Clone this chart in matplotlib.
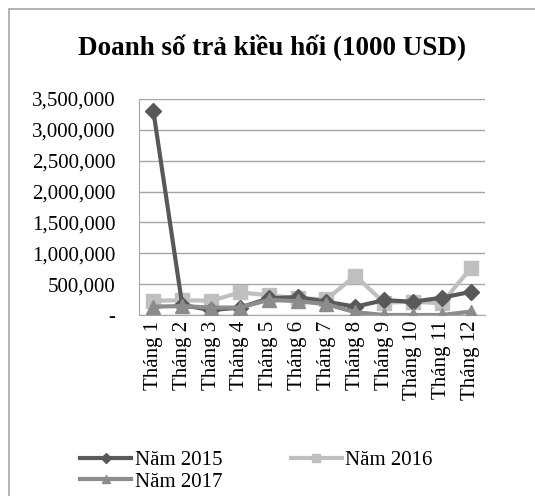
import matplotlib.pyplot as plt
from matplotlib.patches import Rectangle
from matplotlib.ticker import FuncFormatter

months = ["Tháng %d" % i for i in range(1, 13)]
nam_2015 = [3300000, 160000, 80000, 120000, 270000, 290000, 215000, 135000, 240000, 215000, 280000, 375000]
nam_2016 = [230000, 240000, 230000, 365000, 320000, 270000, 255000, 635000, 200000, 215000, 190000, 755000]
nam_2017 = [135000, 145000, 120000, 120000, 245000, 225000, 175000, 45000, 0, 0, 0, 55000]
series_labels = ["Năm 2015", "Năm 2016", "Năm 2017"]

plt.rcParams["font.family"] = ["Liberation Serif", "DejaVu Serif"]

W, H = 535, 496
fig = plt.figure(figsize=(W / 100, H / 100), dpi=100)
ax = fig.add_axes([139 / W, 1 - 315 / H, (485 - 139) / W, (315 - 99) / H])

# chart area border
fig.patches.append(Rectangle((9 / W, -0.1), 1.2, 1 - 9 / H + 0.1, transform=fig.transFigure,
                             fill=False, edgecolor="#a6a6a6", linewidth=1.2))

x = range(len(months))
l1, = ax.plot(x, nam_2015, color="#595959", lw=3, marker="D", ms=8, label=series_labels[0], zorder=3)
l2, = ax.plot(x, nam_2016, color="#bfbfbf", lw=3, marker="s", ms=10, label=series_labels[1], zorder=2)
l3, = ax.plot(x, nam_2017, color="#8c8c8c", lw=3, marker="^", ms=10, label=series_labels[2], zorder=4)

ax.set_xlim(-0.5, 11.5)
ax.set_ylim(0, 3500000)
ax.set_yticks(range(0, 3500001, 500000))
ax.yaxis.set_major_formatter(FuncFormatter(lambda v, p: "-" if v == 0 else f"{int(v):,}"))
ax.set_xticks(list(x))
ax.set_xticklabels(months, rotation=90)
ax.grid(axis="y", color="#a6a6a6", lw=1)
ax.set_axisbelow(True)
for s in ["top", "right"]:
    ax.spines[s].set_visible(False)
for s in ["left", "bottom"]:
    ax.spines[s].set_color("#a6a6a6")
ax.tick_params(axis="both", length=0, labelsize=15)
ax.tick_params(axis="y", pad=17)
ax.tick_params(axis="x", pad=4)

fig.text(0.5 * (9 + W) / W, 1 - 48 / H, "Doanh số trả kiều hối (1000 USD)",
         ha="center", va="center", fontsize=19.5, fontweight="bold")

fig.legend([l1, l3, l2], [series_labels[0], series_labels[2], series_labels[1]],
           loc="upper left", bbox_to_anchor=(70 / W, 1 - 440 / H), ncol=2, frameon=False,
           fontsize=15, handlelength=2.45, handletextpad=0.15, columnspacing=3.3,
           labelspacing=0.1, borderpad=0, markerscale=0.6)

fig.savefig("out.png", dpi=100)
